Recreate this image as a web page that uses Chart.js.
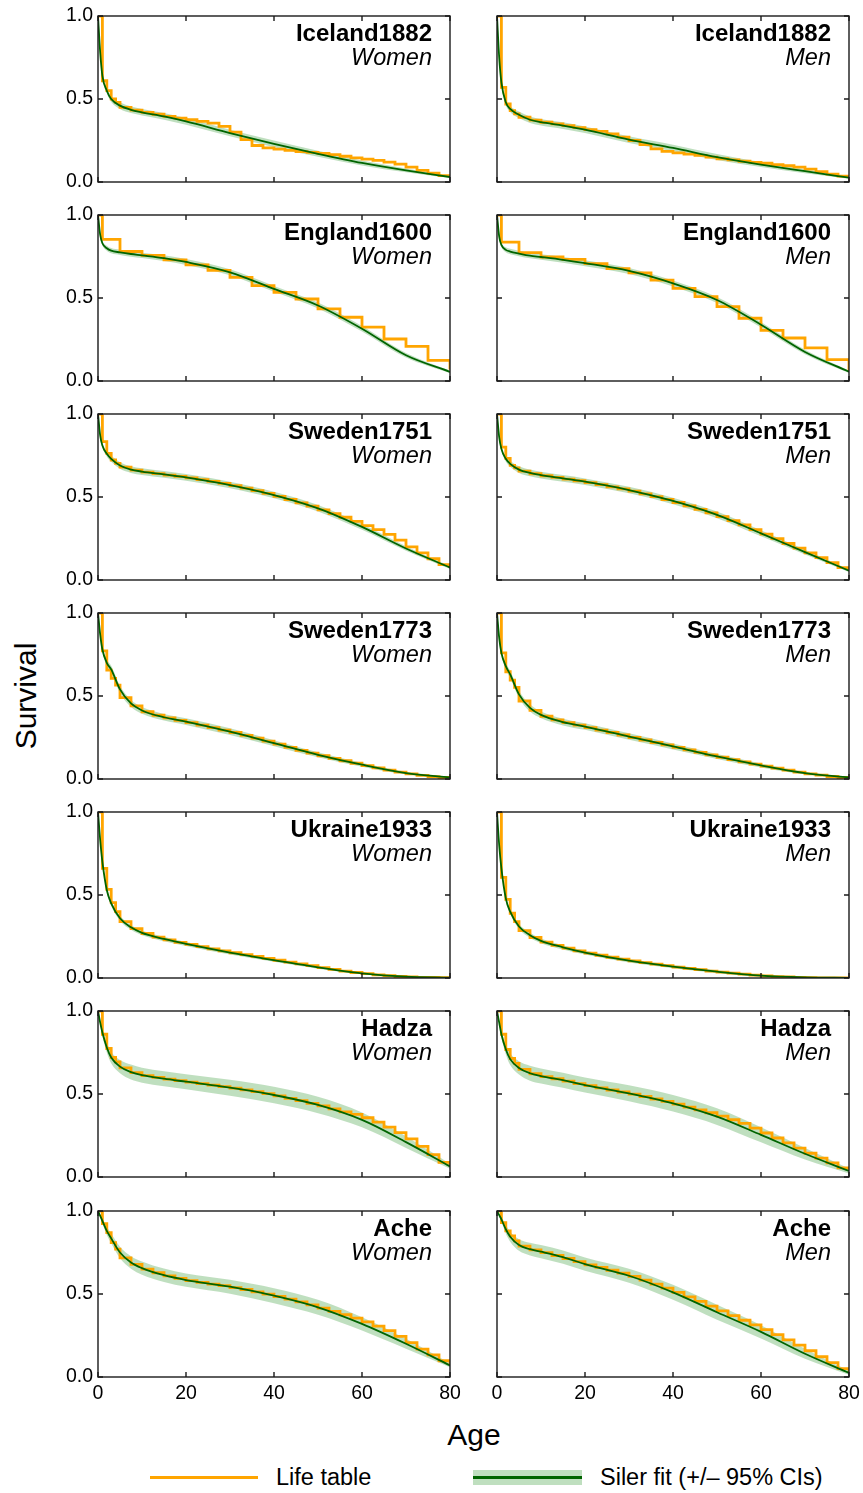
<!DOCTYPE html>
<html lang="en">
<head>
<meta charset="UTF-8">
<title>Survival: life tables vs Siler fits</title>
<script src="https://cdn.jsdelivr.net/npm/chart.js@4.4.1/dist/chart.umd.min.js"></script>
<style>
  body { margin: 0; background: #fff; font-family: "Liberation Sans", Arial, Helvetica, sans-serif; color: #000; }
  #page { position: relative; width: 863px; height: 1493px; overflow: hidden; }
  canvas.panel { position: absolute; }
  .label { position: absolute; white-space: nowrap; line-height: 1; }
  #ylab { left: 26px; top: 696px; font-size: 30px; transform: translate(-50%, -50%) rotate(-90deg); }
  #xlab { left: 474px; top: 1435px; font-size: 30px; transform: translate(-50%, -50%); }
  .legtext { font-size: 23.5px; transform: translateY(-50%); top: 1478px; }
  .swatch { position: absolute; }
</style>
</head>
<body>
<div id="page">
  <div class="label" id="ylab">Survival</div>
  <div class="label" id="xlab">Age</div>
  <div class="swatch" style="left:150px; top:1476px; width:108px; height:3px; background:#FFA500;"></div>
  <div class="label legtext" style="left:276px;">Life table</div>
  <div class="swatch" style="left:473px; top:1470px; width:109px; height:15px; background:rgba(0,128,0,0.25);"></div>
  <div class="swatch" style="left:473px; top:1476px; width:109px; height:3px; background:#006400;"></div>
  <div class="label legtext" style="left:600px;">Siler fit (+/– 95% CIs)</div>
</div>
<script>
// ages of the life-table steps
const ltAges = [0, 1, 2, 3, 4, 5, 7.5, 10, 12.5, 15, 17.5, 20, 22.5, 25, 27.5, 30, 32.5, 35, 37.5, 40,
                42.5, 45, 47.5, 50, 52.5, 55, 57.5, 60, 62.5, 65, 67.5, 70, 72.5, 75, 77.5, 80];
// England1600 only has 5-year age classes
const englandAges = [0, 1, 5, 10, 15, 20, 25, 30, 35, 40, 45, 50, 55, 60, 65, 70, 75, 80];
// ages where the Siler curve is read
const fitAges = [0, 0.5, 1, 2, 3, 5, 7.5, 10, 15, 20, 30, 40, 50, 60, 70, 80];

const xTicks = [0, 20, 40, 60, 80];
const yTicks = [0, 0.5, 1];

// life tables
const icelandWomenLT = [1.0, 0.61, 0.55, 0.50, 0.48, 0.45, 0.433, 0.42, 0.408, 0.395, 0.385, 0.375, 0.365, 0.355, 0.335, 0.30, 0.255, 0.22,
                        0.205, 0.198, 0.19, 0.183, 0.178, 0.173, 0.165, 0.155, 0.145, 0.138, 0.13, 0.12, 0.108, 0.09, 0.07, 0.053, 0.038, 0.03];
const icelandMenLT = [1.0, 0.57, 0.47, 0.43, 0.41, 0.39, 0.373, 0.36, 0.35, 0.34, 0.328, 0.315, 0.305, 0.29, 0.27, 0.25, 0.225, 0.20,
                      0.185, 0.175, 0.168, 0.16, 0.15, 0.14, 0.133, 0.125, 0.118, 0.113, 0.105, 0.098, 0.09, 0.078, 0.063, 0.048, 0.035, 0.026];
const englandWomenLT = [1.0, 0.853, 0.78, 0.757, 0.73, 0.70, 0.667, 0.624, 0.574, 0.534, 0.494, 0.434, 0.384, 0.325, 0.253, 0.209, 0.124, 0.07];
const englandMenLT = [1.0, 0.837, 0.773, 0.747, 0.733, 0.707, 0.677, 0.651, 0.608, 0.558, 0.508, 0.448, 0.378, 0.305, 0.259, 0.199, 0.129, 0.06];
const sweden1751WomenLT = [1.0, 0.833, 0.763, 0.723, 0.703, 0.68, 0.662, 0.65, 0.641, 0.632, 0.624, 0.615, 0.605, 0.594, 0.582, 0.568, 0.553, 0.538,
                           0.522, 0.504, 0.485, 0.465, 0.445, 0.423, 0.40, 0.378, 0.353, 0.328, 0.303, 0.275, 0.24, 0.20, 0.163, 0.128, 0.093, 0.075];
const sweden1751MenLT = [1.0, 0.80, 0.733, 0.69, 0.675, 0.656, 0.64, 0.628, 0.618, 0.608, 0.598, 0.587, 0.574, 0.561, 0.549, 0.535, 0.519, 0.502,
                         0.485, 0.467, 0.447, 0.426, 0.404, 0.382, 0.358, 0.332, 0.304, 0.276, 0.249, 0.22, 0.192, 0.164, 0.135, 0.105, 0.074, 0.058];
const sweden1773WomenLT = [1.0, 0.772, 0.656, 0.606, 0.566, 0.49, 0.44, 0.405, 0.384, 0.368, 0.353, 0.34, 0.325, 0.31, 0.295, 0.28, 0.263, 0.246,
                           0.228, 0.21, 0.191, 0.173, 0.156, 0.14, 0.124, 0.11, 0.095, 0.081, 0.067, 0.053, 0.041, 0.031, 0.022, 0.014, 0.009, 0.007];
const sweden1773MenLT = [1.0, 0.76, 0.646, 0.596, 0.552, 0.47, 0.413, 0.378, 0.356, 0.34, 0.325, 0.31, 0.295, 0.28, 0.265, 0.25, 0.235, 0.22,
                         0.205, 0.19, 0.175, 0.16, 0.145, 0.131, 0.117, 0.103, 0.09, 0.077, 0.065, 0.053, 0.041, 0.031, 0.023, 0.015, 0.009, 0.007];
const ukraineWomenLT = [1.0, 0.66, 0.534, 0.454, 0.40, 0.34, 0.298, 0.268, 0.246, 0.23, 0.215, 0.202, 0.189, 0.176, 0.164, 0.152, 0.141, 0.13,
                        0.118, 0.107, 0.096, 0.085, 0.074, 0.063, 0.052, 0.042, 0.033, 0.026, 0.019, 0.014, 0.009, 0.006, 0.004, 0.003, 0.002, 0.001];
const ukraineMenLT = [1.0, 0.606, 0.474, 0.39, 0.34, 0.285, 0.244, 0.216, 0.196, 0.18, 0.163, 0.15, 0.137, 0.125, 0.114, 0.103, 0.093, 0.083,
                      0.074, 0.066, 0.058, 0.05, 0.042, 0.035, 0.029, 0.023, 0.017, 0.012, 0.008, 0.006, 0.004, 0.002, 0.001, 0.001, 0.0, 0.0];
const hadzaWomenLT = [1.0, 0.86, 0.774, 0.72, 0.694, 0.657, 0.629, 0.611, 0.60, 0.59, 0.58, 0.571, 0.562, 0.553, 0.544, 0.535, 0.525, 0.514,
                      0.502, 0.489, 0.474, 0.46, 0.444, 0.428, 0.41, 0.392, 0.377, 0.357, 0.33, 0.30, 0.267, 0.23, 0.185, 0.135, 0.088, 0.065];
const hadzaMenLT = [1.0, 0.86, 0.768, 0.714, 0.684, 0.648, 0.622, 0.605, 0.592, 0.578, 0.563, 0.55, 0.537, 0.524, 0.512, 0.499, 0.485, 0.47,
                    0.455, 0.439, 0.421, 0.404, 0.387, 0.367, 0.345, 0.323, 0.295, 0.265, 0.235, 0.205, 0.174, 0.143, 0.114, 0.085, 0.055, 0.04];
const acheWomenLT = [1.0, 0.924, 0.87, 0.81, 0.77, 0.718, 0.678, 0.65, 0.628, 0.609, 0.594, 0.581, 0.57, 0.56, 0.55, 0.539, 0.527, 0.513,
                     0.499, 0.485, 0.469, 0.452, 0.434, 0.415, 0.395, 0.375, 0.355, 0.332, 0.307, 0.279, 0.245, 0.207, 0.168, 0.133, 0.098, 0.075];
const acheMenLT = [1.0, 0.93, 0.88, 0.85, 0.82, 0.788, 0.766, 0.749, 0.732, 0.714, 0.695, 0.676, 0.66, 0.643, 0.626, 0.606, 0.583, 0.56,
                   0.535, 0.51, 0.483, 0.456, 0.427, 0.398, 0.37, 0.342, 0.314, 0.285, 0.255, 0.224, 0.192, 0.158, 0.122, 0.086, 0.05, 0.025];

// Siler fits, read at fitAges
const icelandWomenFit = [1.0, 0.78, 0.64, 0.55, 0.50, 0.46, 0.435, 0.42, 0.395, 0.365, 0.295, 0.23, 0.17, 0.115, 0.07, 0.03];
const icelandMenFit = [1.0, 0.75, 0.60, 0.48, 0.44, 0.405, 0.375, 0.36, 0.34, 0.315, 0.255, 0.205, 0.15, 0.105, 0.065, 0.026];
const englandWomenFit = [1.0, 0.88, 0.83, 0.80, 0.785, 0.775, 0.765, 0.757, 0.74, 0.717, 0.655, 0.555, 0.455, 0.315, 0.155, 0.055];
const englandMenFit = [1.0, 0.87, 0.82, 0.79, 0.78, 0.768, 0.755, 0.747, 0.73, 0.71, 0.663, 0.588, 0.488, 0.339, 0.175, 0.056];
const sweden1751WomenFit = [1.0, 0.87, 0.81, 0.76, 0.73, 0.69, 0.665, 0.653, 0.636, 0.618, 0.572, 0.512, 0.432, 0.32, 0.19, 0.075];
const sweden1751MenFit = [1.0, 0.86, 0.79, 0.73, 0.70, 0.665, 0.645, 0.632, 0.612, 0.592, 0.542, 0.476, 0.392, 0.281, 0.168, 0.056];
const sweden1773WomenFit = [1.0, 0.87, 0.78, 0.70, 0.66, 0.54, 0.455, 0.413, 0.372, 0.346, 0.285, 0.216, 0.146, 0.086, 0.036, 0.01];
const sweden1773MenFit = [1.0, 0.85, 0.76, 0.68, 0.63, 0.51, 0.428, 0.386, 0.343, 0.316, 0.256, 0.196, 0.136, 0.082, 0.036, 0.01];
const ukraineWomenFit = [1.0, 0.83, 0.70, 0.53, 0.45, 0.36, 0.305, 0.272, 0.235, 0.205, 0.153, 0.108, 0.064, 0.028, 0.008, 0.002];
const ukraineMenFit = [1.0, 0.80, 0.66, 0.48, 0.40, 0.31, 0.258, 0.224, 0.185, 0.153, 0.104, 0.068, 0.038, 0.014, 0.004, 0.001];
const hadzaWomenFit = [1.0, 0.93, 0.87, 0.78, 0.72, 0.665, 0.632, 0.613, 0.592, 0.574, 0.538, 0.494, 0.434, 0.344, 0.21, 0.064];
const hadzaMenFit = [1.0, 0.93, 0.86, 0.77, 0.71, 0.657, 0.625, 0.608, 0.583, 0.554, 0.504, 0.444, 0.364, 0.254, 0.14, 0.036];
const acheWomenFit = [1.0, 0.97, 0.94, 0.88, 0.835, 0.75, 0.69, 0.656, 0.613, 0.584, 0.544, 0.49, 0.42, 0.32, 0.20, 0.07];
const acheMenFit = [1.0, 0.975, 0.95, 0.89, 0.845, 0.795, 0.77, 0.755, 0.722, 0.68, 0.61, 0.51, 0.39, 0.272, 0.14, 0.025];

// half widths of the 95% CI band at fitAges
const ciIceland = [0, 0.008, 0.012, 0.016, 0.018, 0.02, 0.02, 0.02, 0.02, 0.02, 0.02, 0.02, 0.018, 0.015, 0.012, 0.006];
const ciEngland = [0, 0.008, 0.012, 0.015, 0.016, 0.016, 0.016, 0.016, 0.017, 0.018, 0.018, 0.018, 0.018, 0.017, 0.014, 0.008];
const ciSweden1751 = [0, 0.008, 0.012, 0.016, 0.018, 0.02, 0.02, 0.02, 0.02, 0.02, 0.02, 0.02, 0.02, 0.018, 0.014, 0.008];
const ciSweden1773 = [0, 0.008, 0.014, 0.02, 0.022, 0.022, 0.022, 0.02, 0.02, 0.02, 0.02, 0.018, 0.015, 0.012, 0.008, 0.004];
const ciUkraine = [0, 0.006, 0.01, 0.014, 0.015, 0.015, 0.015, 0.014, 0.013, 0.012, 0.011, 0.01, 0.008, 0.006, 0.003, 0.001];
const ciHadza = [0, 0.01, 0.02, 0.03, 0.035, 0.04, 0.045, 0.045, 0.045, 0.045, 0.048, 0.05, 0.05, 0.045, 0.035, 0.015];
const ciAche = [0, 0.008, 0.015, 0.025, 0.03, 0.035, 0.038, 0.04, 0.04, 0.04, 0.042, 0.045, 0.045, 0.04, 0.03, 0.012];

const panels = [
  ['Iceland1882', 'Women', ltAges, icelandWomenLT, icelandWomenFit, ciIceland],
  ['Iceland1882', 'Men', ltAges, icelandMenLT, icelandMenFit, ciIceland],
  ['England1600', 'Women', englandAges, englandWomenLT, englandWomenFit, ciEngland],
  ['England1600', 'Men', englandAges, englandMenLT, englandMenFit, ciEngland],
  ['Sweden1751', 'Women', ltAges, sweden1751WomenLT, sweden1751WomenFit, ciSweden1751],
  ['Sweden1751', 'Men', ltAges, sweden1751MenLT, sweden1751MenFit, ciSweden1751],
  ['Sweden1773', 'Women', ltAges, sweden1773WomenLT, sweden1773WomenFit, ciSweden1773],
  ['Sweden1773', 'Men', ltAges, sweden1773MenLT, sweden1773MenFit, ciSweden1773],
  ['Ukraine1933', 'Women', ltAges, ukraineWomenLT, ukraineWomenFit, ciUkraine],
  ['Ukraine1933', 'Men', ltAges, ukraineMenLT, ukraineMenFit, ciUkraine],
  ['Hadza', 'Women', ltAges, hadzaWomenLT, hadzaWomenFit, ciHadza],
  ['Hadza', 'Men', ltAges, hadzaMenLT, hadzaMenFit, ciHadza],
  ['Ache', 'Women', ltAges, acheWomenLT, acheWomenFit, ciAche],
  ['Ache', 'Men', ltAges, acheMenLT, acheMenFit, ciAche]
];

const FONT = '"Liberation Sans", Arial, Helvetica, sans-serif';
const plotLefts = [98, 497];
const plotTops = [16, 215, 414, 613, 812, 1011, 1211];
const plotW = 352, plotH = 166;
const axisW = 43, padTop = 12, padRight = 14;

// frame, inward ticks on all sides, panel title
const framePlugin = {
  id: 'frame',
  afterDatasetsDraw(chart, args, opts) {
    const ctx = chart.ctx;
    const a = chart.chartArea;
    const sx = chart.scales.x, sy = chart.scales.y;
    ctx.save();
    ctx.strokeStyle = '#1a1a1a';
    ctx.lineWidth = 1.4;
    ctx.strokeRect(a.left, a.top, a.right - a.left, a.bottom - a.top);
    ctx.beginPath();
    xTicks.forEach(t => {
      const px = sx.getPixelForValue(t);
      ctx.moveTo(px, a.bottom); ctx.lineTo(px, a.bottom - 5);
      ctx.moveTo(px, a.top); ctx.lineTo(px, a.top + 5);
    });
    yTicks.forEach(t => {
      const py = sy.getPixelForValue(t);
      ctx.moveTo(a.left, py); ctx.lineTo(a.left + 5, py);
      ctx.moveTo(a.right, py); ctx.lineTo(a.right - 5, py);
    });
    ctx.stroke();
    ctx.fillStyle = '#000';
    ctx.textAlign = 'right';
    ctx.textBaseline = 'alphabetic';
    ctx.font = 'bold 24px ' + FONT;
    ctx.fillText(opts.name, a.right - 18, a.top + 25);
    ctx.font = 'italic 23.5px ' + FONT;
    ctx.fillText(opts.sex, a.right - 18, a.top + 49);
    ctx.restore();
  }
};

const page = document.getElementById('page');

panels.forEach((p, i) => {
  const [name, sex, ages, lt, fit, ci] = p;
  const row = Math.floor(i / 2), col = i % 2;
  const bottomRow = row === plotTops.length - 1;
  const xAxisH = bottomRow ? 30 : 12;

  const canvas = document.createElement('canvas');
  canvas.className = 'panel';
  canvas.width = axisW + plotW + padRight;
  canvas.height = padTop + plotH + xAxisH;
  canvas.style.left = (plotLefts[col] - axisW) + 'px';
  canvas.style.top = (plotTops[row] - padTop) + 'px';
  page.appendChild(canvas);

  const lower = fitAges.map((x, k) => ({ x: x, y: Math.max(0, fit[k] - ci[k]) }));
  const upper = fitAges.map((x, k) => ({ x: x, y: Math.min(1, fit[k] + ci[k]) }));

  new Chart(canvas, {
    type: 'line',
    data: {
      datasets: [
        { data: lower, borderWidth: 0, pointRadius: 0, fill: false,
          cubicInterpolationMode: 'monotone', order: 3 },
        { data: upper, borderWidth: 0, pointRadius: 0, fill: 0,
          backgroundColor: 'rgba(0,128,0,0.25)', cubicInterpolationMode: 'monotone', order: 2 },
        { data: ages.map((x, k) => ({ x: x, y: lt[k] })), stepped: true, borderColor: '#FFA500',
          borderWidth: 2.8, pointRadius: 0, fill: false, order: 1 },
        { data: fitAges.map((x, k) => ({ x: x, y: fit[k] })), borderColor: '#006400',
          borderWidth: 1.8, pointRadius: 0, fill: false, cubicInterpolationMode: 'monotone', order: 0 }
      ]
    },
    options: {
      responsive: false,
      animation: false,
      devicePixelRatio: 1,
      layout: { padding: { top: padTop, right: padRight, left: 0, bottom: 0 } },
      plugins: {
        legend: { display: false },
        tooltip: { enabled: false },
        frame: { name: name, sex: sex }
      },
      scales: {
        x: {
          type: 'linear', min: 0, max: 80,
          grid: { display: false, drawTicks: false }, border: { display: false },
          ticks: { display: bottomRow, stepSize: 20, padding: 5, maxRotation: 0,
                   color: '#000', font: { family: FONT, size: 19.5 } },
          afterFit: s => { s.height = xAxisH; s.paddingLeft = 0; s.paddingRight = 0; }
        },
        y: {
          min: 0, max: 1,
          grid: { display: false, drawTicks: false }, border: { display: false },
          ticks: { display: col === 0, stepSize: 0.5, padding: 5, color: '#000',
                   font: { family: FONT, size: 19.5 }, callback: v => v.toFixed(1) },
          afterFit: s => { s.width = axisW; s.paddingTop = 0; s.paddingBottom = 0; }
        }
      }
    },
    plugins: [framePlugin]
  });
});
</script>
</body>
</html>
